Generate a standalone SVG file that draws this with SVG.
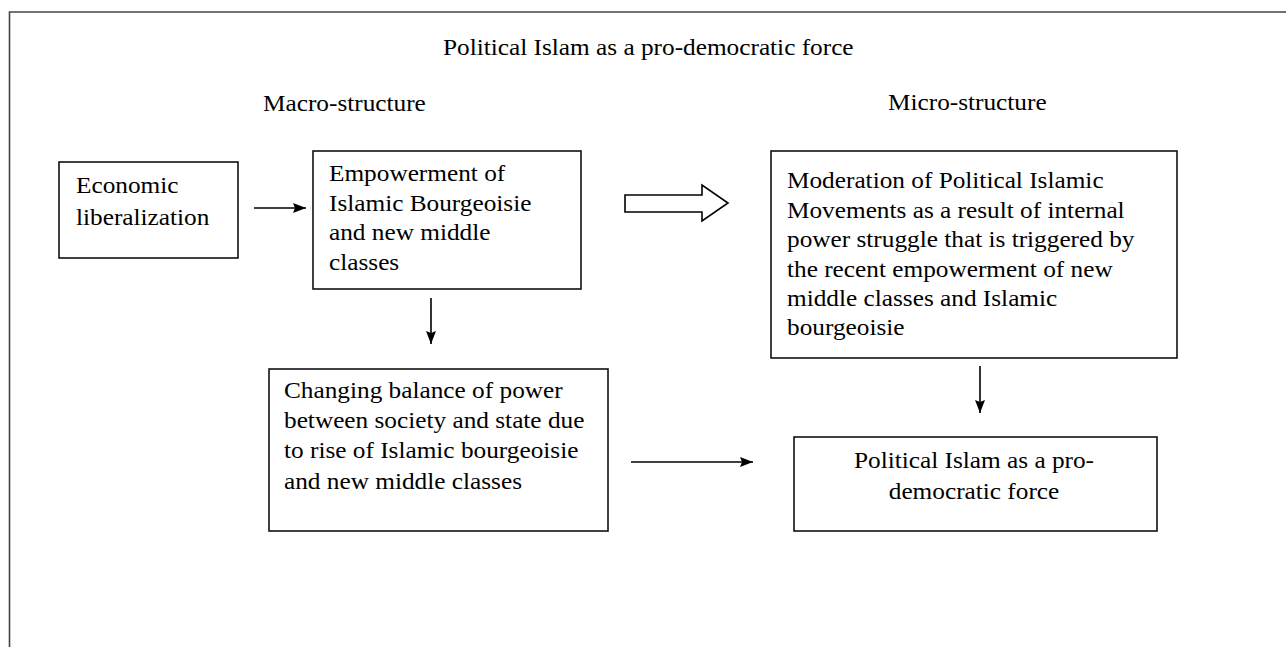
<svg xmlns="http://www.w3.org/2000/svg" width="1286" height="647" viewBox="0 0 1286 647" font-family="'Liberation Serif', 'Times New Roman', 'DejaVu Serif', serif">
<style>
text{font-family:'Liberation Serif','Times New Roman','DejaVu Serif',serif;font-size:23px;fill:#000}
.box{fill:#fff;stroke:#111;stroke-width:1.6}
.conn{stroke:#000;stroke-width:1.6;fill:none}
</style>
<defs>
<marker id="ah" markerUnits="userSpaceOnUse" markerWidth="14" markerHeight="11" refX="13" refY="5" orient="auto">
<path d="M0,0 L13,5 L0,10 L2,5 z" fill="#000"/>
</marker>
</defs>
<rect width="1286" height="647" fill="#fff"/>
<path d="M9.5 647 V12 H1286" fill="none" stroke="#444" stroke-width="1.6"/>
<g id="labels">
<g transform="translate(443,55) scale(1.1,1)"><text x="0" y="0">Political Islam as a pro-democratic force</text></g>
<g transform="translate(263,111) scale(1.1,1)"><text x="0" y="0">Macro-structure</text></g>
<g transform="translate(888,110) scale(1.1,1)"><text x="0" y="0">Micro-structure</text></g>
</g>
<g id="node-economic">
<rect class="box" x="59" y="162" width="179" height="96"/>
<g transform="translate(76,0) scale(1.1,1)"><text x="0" y="193">Economic</text><text x="0" y="225">liberalization</text></g>
</g>
<g id="node-empowerment">
<rect class="box" x="313" y="151" width="268" height="138"/>
<g transform="translate(329,0) scale(1.1,1)"><text x="0" y="181.5">Empowerment of</text><text x="0" y="211">Islamic Bourgeoisie</text><text x="0" y="240.5">and new middle</text><text x="0" y="270">classes</text></g>
</g>
<g id="node-moderation">
<rect class="box" x="771" y="151" width="406" height="207"/>
<g transform="translate(787,0) scale(1.1,1)"><text x="0" y="188">Moderation of Political Islamic</text><text x="0" y="218">Movements as a result of internal</text><text x="0" y="247">power struggle that is triggered by</text><text x="0" y="277">the recent empowerment of new</text><text x="0" y="306">middle  classes and Islamic</text><text x="0" y="335">bourgeoisie</text></g>
</g>
<g id="node-changing">
<rect class="box" x="269" y="369" width="339" height="162"/>
<g transform="translate(284,0) scale(1.1,1)"><text x="0" y="398">Changing balance of power</text><text x="0" y="428">between society and state due</text><text x="0" y="458">to rise of Islamic bourgeoisie</text><text x="0" y="489">and new middle classes</text></g>
</g>
<g id="node-political">
<rect class="box" x="794" y="437" width="363" height="94"/>
<g transform="translate(974,0) scale(1.1,1)"><text x="0" y="468" text-anchor="middle">Political Islam as a pro-</text><text x="0" y="499" text-anchor="middle">democratic force</text></g>
</g>
<g id="connectors">
<line class="conn" x1="254" y1="208" x2="306" y2="208" marker-end="url(#ah)"/>
<line class="conn" x1="431" y1="298" x2="431" y2="344" marker-end="url(#ah)"/>
<line class="conn" x1="980" y1="366" x2="980" y2="413" marker-end="url(#ah)"/>
<line class="conn" x1="631" y1="462" x2="753" y2="462" marker-end="url(#ah)"/>
<polygon points="625,195 702,195 702,185 728,203 702,221 702,212 625,212" fill="#fff" stroke="#000" stroke-width="1.6" stroke-linejoin="miter"/>
</g>
</svg>
